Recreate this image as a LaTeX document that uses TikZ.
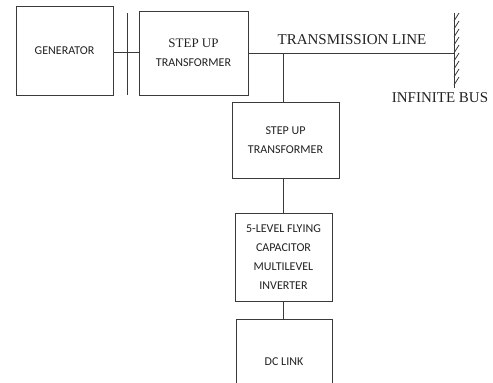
\documentclass[tikz,border=0pt]{standalone}
\usepackage{fontspec}
\setmainfont{Carlito}
\newfontfamily\serifface{Liberation Serif}
\usetikzlibrary{positioning}
\definecolor{ink}{HTML}{222222}
\definecolor{wire}{HTML}{3A3A3A}

\begin{document}
\begin{tikzpicture}[x=1pt, y=-1pt, line width=0.8pt,
  block/.style={draw=wire, fill=white, align=center, text=ink, inner sep=0pt, font=\fontsize{12}{19}\selectfont},
  caption/.style={text=ink, inner sep=0pt, font=\serifface\fontsize{15}{18}\selectfont}]
\clip (0,0) rectangle (493,383);
\node[block, minimum width=97pt, minimum height=89pt] (gen) at (64.5,50.5) {GENERATOR};
\node[block, minimum width=109pt, minimum height=84pt] (tf1) at (193.5,53) {{\serifface\fontsize{13}{19}\selectfont STEP UP}\\TRANSFORMER};
\node[block, minimum width=107pt, minimum height=76pt] (tf2) at (285.5,140) {STEP UP\\TRANSFORMER};
\node[block, minimum width=97pt, minimum height=88pt] (inv) at (283.5,257) {5-LEVEL FLYING\\CAPACITOR\\MULTILEVEL\\INVERTER};
\node[block, minimum width=96pt, minimum height=86pt] (dc) at (284,362) {DC LINK};
\coordinate (bartop) at (127,13);
\coordinate (barbot) at (127,95);
\coordinate (bar) at (127,52);
\coordinate (bustop) at (454,13);
\coordinate (busbot) at (454,88);
\coordinate (bus) at (454,53);
\coordinate (tap) at (283,53);
\draw[wire] (bartop) -- (barbot);
\draw[wire] (bar -| gen.east) -- (bar -| tf1.west);
\draw[wire] (bus -| tf1.east) -- (bus);
\draw[wire] (bustop) -- (busbot);
\foreach \y in {21,29,...,85} \draw[wire] (454,\y) -- ++(5,-8);
\draw[wire] (tap) -- (tap |- tf2.north);
\draw[wire] (inv.north |- tf2.south) -- (inv.north);
\draw[wire] (inv.south) -- (inv.south |- dc.north);
\node[caption] (tline) at (352,40) {TRANSMISSION LINE};
\node[caption] (ibus) at (440,98) {INFINITE BUS};
\end{tikzpicture}
\end{document}
